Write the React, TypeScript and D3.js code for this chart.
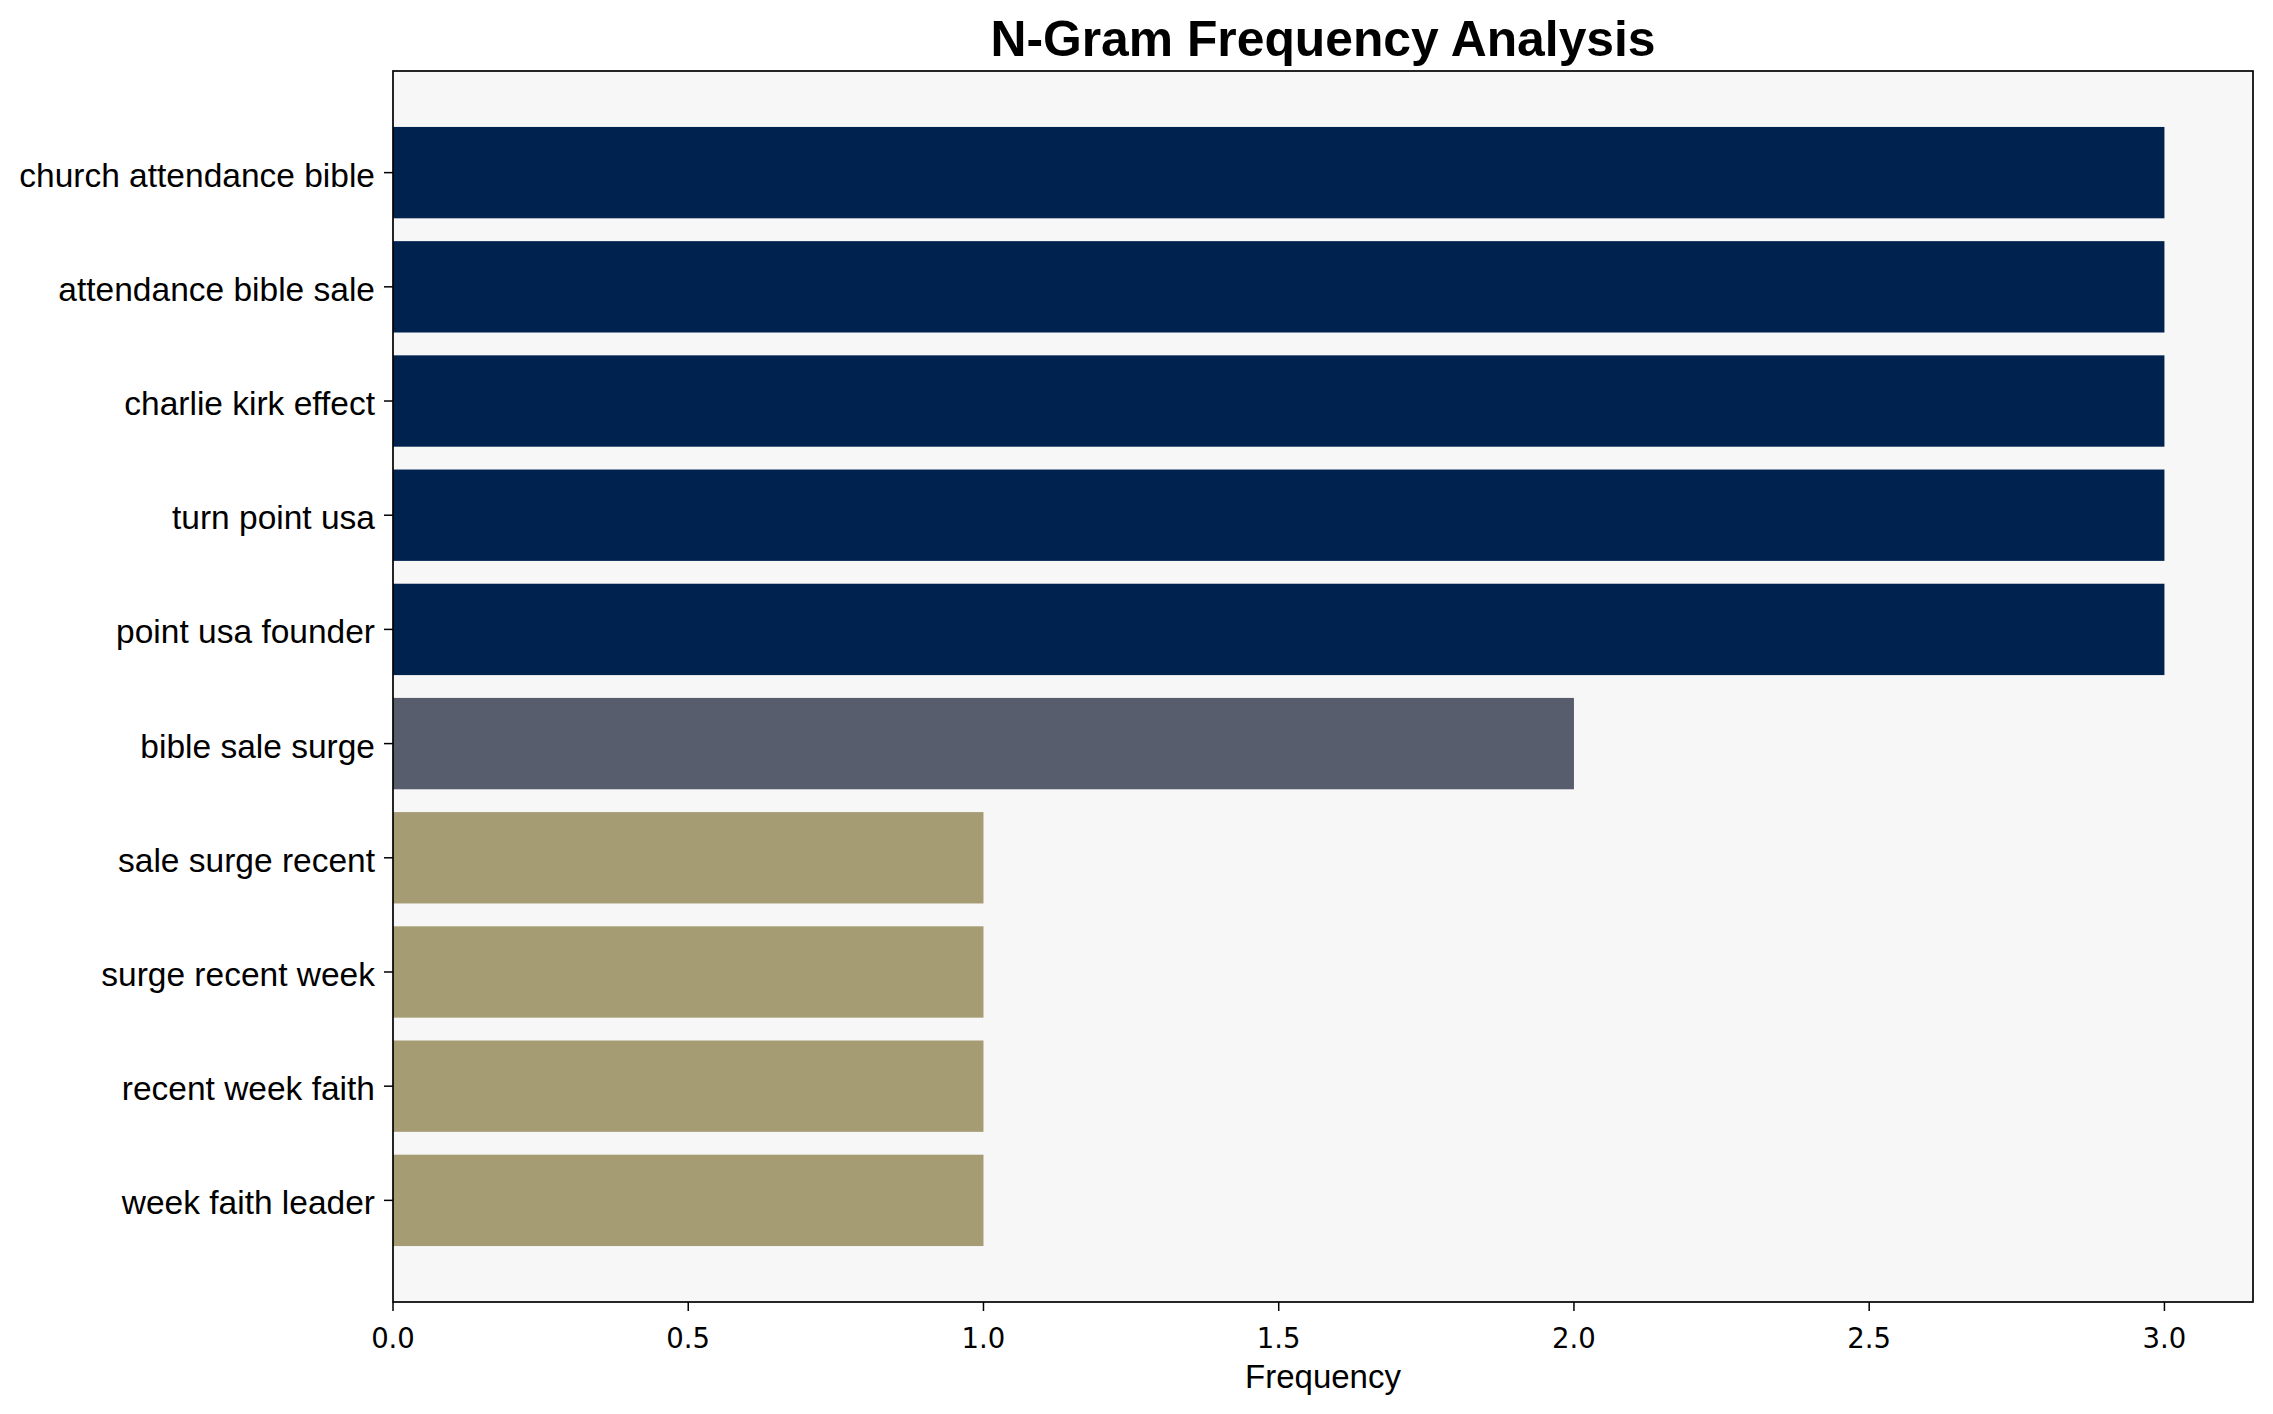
import React from "react";
import * as d3 from "d3";

const ngrams = [
  "church attendance bible",
  "attendance bible sale",
  "charlie kirk effect",
  "turn point usa",
  "point usa founder",
  "bible sale surge",
  "sale surge recent",
  "surge recent week",
  "recent week faith",
  "week faith leader",
];
const frequencies = [3, 3, 3, 3, 3, 2, 1, 1, 1, 1];
const barColors = [
  "#00224e", "#00224e", "#00224e", "#00224e", "#00224e",
  "#575d6d", "#a59c74", "#a59c74", "#a59c74", "#a59c74",
];
const xTicks = [0, 0.5, 1, 1.5, 2, 2.5, 3];

const W = 2273;
const H = 1414;
const left = 393;
const right = 2253;
const top = 71;
const bottom = 1302;

export default function App() {
  const xMax = d3.max(frequencies)! * 1.05;
  const x = d3.scaleLinear().domain([0, xMax]).range([left, right]);
  const n = ngrams.length;
  const pad = (n - 1 + 0.8) * 0.05;
  const y = d3.scaleLinear().domain([-0.4 - pad, n - 1 + 0.4 + pad]).range([top, bottom]);
  const bh = y(0.8) - y(0);
  const sans = "'Liberation Sans', Arial, sans-serif";
  return (
    <svg width={W} height={H} style={{ position: "absolute", left: 0, top: 0, background: "#fff" }}>
      <rect x={0} y={0} width={W} height={H} fill="#fff" />
      <rect x={left} y={top} width={right - left} height={bottom - top} fill="#f7f7f7" />
      {ngrams.map((g, i) => (
        <rect key={g} x={x(0)} y={y(i) - bh / 2} width={x(frequencies[i]) - x(0)} height={bh} fill={barColors[i]} />
      ))}
      <rect x={left} y={top} width={right - left} height={bottom - top} fill="none" stroke="#000" strokeWidth={1.7} />
      {ngrams.map((g, i) => (
        <g key={"t" + g}>
          <line x1={left - 9} x2={left} y1={y(i)} y2={y(i)} stroke="#000" strokeWidth={1.5} />
          <text x={left - 18} y={y(i)} dy="0.42em" textAnchor="end" fontFamily={sans} fontSize={33.5} fill="#000">
            {g}
          </text>
        </g>
      ))}
      {xTicks.map((t) => (
        <g key={"x" + t}>
          <line x1={x(t)} x2={x(t)} y1={bottom} y2={bottom + 9} stroke="#000" strokeWidth={1.5} />
          <text x={x(t)} y={1348} textAnchor="middle" fontFamily="'DejaVu Sans', sans-serif" fontSize={27.5} fill="#000">
            {t.toFixed(1)}
          </text>
        </g>
      ))}
      <text x={(left + right) / 2} y={1388} textAnchor="middle" fontFamily={sans} fontSize={33} fill="#000">
        Frequency
      </text>
      <text x={(left + right) / 2} y={56} textAnchor="middle" fontFamily={sans} fontWeight="bold" fontSize={49.8} fill="#000">
        N-Gram Frequency Analysis
      </text>
    </svg>
  );
}
